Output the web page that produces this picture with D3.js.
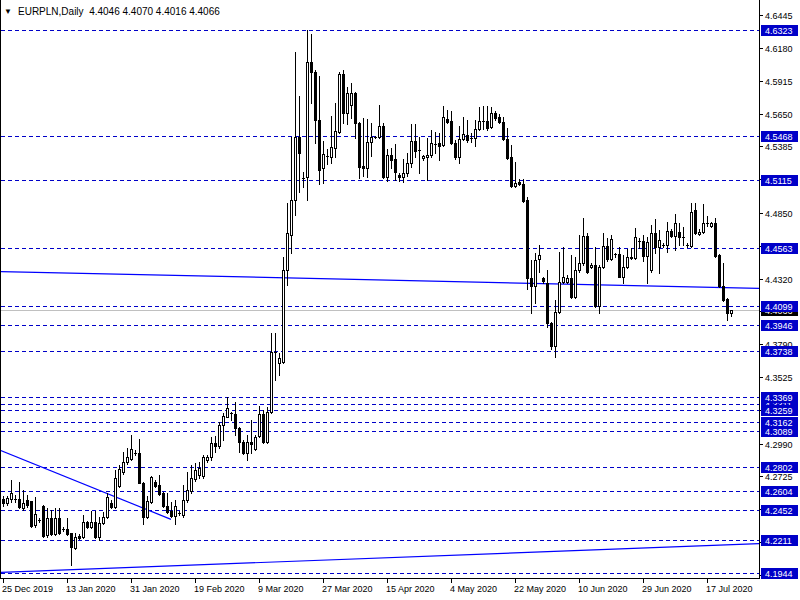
<!DOCTYPE html>
<html>
<head>
<meta charset="utf-8">
<script src="https://cdn.jsdelivr.net/npm/d3@7/dist/d3.min.js"></script>
<style>
body { margin: 0; background: #fff; }
svg { display: block; font-family: "Liberation Sans", Arial, sans-serif; }
</style>
</head>
<body>
<div class="chart"></div>
<script>
var symbol = "EURPLN,Daily";

// one row per daily bar: [open, high, low, close]
var ohlc = [
[4.2543,4.2567,4.2487,4.2511],[4.2511,4.2567,4.2495,4.2551],[4.2543,4.2696,4.2519,4.2591],[4.2543,4.2575,4.2519,4.2545],
[4.2543,4.2680,4.2471,4.2479],[4.2471,4.2616,4.2454,4.2511],[4.2535,4.2575,4.2479,4.2495],[4.2527,4.2530,4.2320,4.2325],
[4.2333,4.2559,4.2317,4.2422],[4.2374,4.2390,4.2358,4.2376],[4.2487,4.2495,4.2237,4.2245],[4.2253,4.2471,4.2237,4.2390],
[4.2390,4.2454,4.2253,4.2261],[4.2261,4.2471,4.2253,4.2390],[4.2390,4.2471,4.2261,4.2269],[4.2301,4.2317,4.2285,4.2303],
[4.2301,4.2390,4.2253,4.2261],[4.2269,4.2272,4.2011,4.2156],[4.2148,4.2269,4.2140,4.2237],[4.2245,4.2261,4.2221,4.2229],
[4.2237,4.2414,4.2229,4.2358],[4.2358,4.2366,4.2309,4.2317],[4.2317,4.2446,4.2309,4.2358],[4.2358,4.2446,4.2229,4.2237],
[4.2237,4.2398,4.2213,4.2350],[4.2350,4.2438,4.2342,4.2398],[4.2398,4.2591,4.2390,4.2559],[4.2511,4.2535,4.2471,4.2479],
[4.2479,4.2777,4.2471,4.2712],[4.2648,4.2817,4.2640,4.2785],[4.2761,4.2922,4.2745,4.2841],[4.2841,4.2954,4.2825,4.2882],
[4.2866,4.3059,4.2857,4.2946],[4.2914,4.2938,4.2898,4.2916],[4.2914,4.3027,4.2672,4.2672],[4.2672,4.2680,4.2342,4.2398],
[4.2398,4.2567,4.2390,4.2527],[4.2519,4.2728,4.2511,4.2720],[4.2680,4.2696,4.2640,4.2648],[4.2656,4.2737,4.2575,4.2583],
[4.2591,4.2599,4.2479,4.2487],[4.2487,4.2591,4.2430,4.2438],[4.2446,4.2519,4.2398,4.2406],[4.2406,4.2535,4.2342,4.2487],
[4.2430,4.2446,4.2414,4.2432],[4.2414,4.2656,4.2398,4.2535],[4.2535,4.2761,4.2519,4.2616],[4.2607,4.2817,4.2591,4.2712],
[4.2704,4.2833,4.2688,4.2777],[4.2737,4.2841,4.2712,4.2793],[4.2728,4.2898,4.2712,4.2882],[4.2857,4.2898,4.2841,4.2882],
[4.2882,4.3043,4.2857,4.2994],[4.2994,4.3051,4.2922,4.2970],[4.2970,4.3164,4.2954,4.3140],[4.3140,4.3236,4.3019,4.3212],
[4.3204,4.3365,4.3204,4.3277],[4.3236,4.3244,4.3180,4.3234],[4.3228,4.3325,4.3059,4.3115],[4.3115,4.3123,4.2922,4.3002],
[4.3002,4.3019,4.2906,4.2914],[4.2914,4.3059,4.2857,4.3002],[4.3002,4.3180,4.2914,4.2986],[4.2946,4.3059,4.2938,4.3043],
[4.3051,4.3293,4.3043,4.3228],[4.3228,4.3260,4.2994,4.3002],[4.3002,4.3285,4.2994,4.3244],[4.3244,4.3881,4.3236,4.3728],
[4.3728,4.3881,4.3502,4.3730],[4.3639,4.3720,4.3542,4.3680],[4.3647,4.4494,4.3640,4.4389],[4.4389,4.4929,4.4268,4.4687],
[4.4671,4.5461,4.4526,4.4953],[4.4953,4.6146,4.4832,4.5461],[4.5461,4.5791,4.5017,4.5332],[4.5130,4.5178,4.5057,4.5134],
[4.5138,4.6323,4.4953,4.6065],[4.6065,4.6291,4.5735,4.5985],[4.5985,4.6001,4.5412,4.5598],[4.5598,4.5952,4.5082,4.5195],
[4.5211,4.5428,4.5090,4.5324],[4.5308,4.5364,4.5243,4.5310],[4.5300,4.5630,4.5251,4.5380],[4.5372,4.5735,4.5300,4.5509],
[4.5501,4.5985,4.5493,4.5969],[4.5969,4.6001,4.5574,4.5654],[4.5654,4.5864,4.5566,4.5815],[4.5719,4.5896,4.5614,4.5815],
[4.5815,4.5820,4.5453,4.5574],[4.5574,4.5582,4.5130,4.5219],[4.5227,4.5614,4.5146,4.5211],[4.5211,4.5606,4.5138,4.5420],
[4.5420,4.5574,4.5308,4.5461],[4.5461,4.5469,4.5453,4.5463],[4.5461,4.5719,4.5453,4.5549],[4.5549,4.5574,4.5130,4.5138],
[4.5138,4.5364,4.5106,4.5316],[4.5316,4.5372,4.5211,4.5275],[4.5283,4.5404,4.5114,4.5178],[4.5154,4.5170,4.5106,4.5138],
[4.5138,4.5283,4.5098,4.5170],[4.5170,4.5332,4.5146,4.5251],[4.5251,4.5566,4.5219,4.5428],[4.5428,4.5566,4.5300,4.5348],
[4.5356,4.5461,4.5170,4.5354],[4.5292,4.5316,4.5275,4.5308],[4.5300,4.5453,4.5114,4.5316],[4.5316,4.5517,4.5300,4.5412],
[4.5404,4.5501,4.5332,4.5406],[4.5412,4.5493,4.5275,4.5388],[4.5396,4.5711,4.5388,4.5622],[4.5606,4.5678,4.5574,4.5582],
[4.5590,4.5670,4.5404,4.5412],[4.5412,4.5436,4.5283,4.5300],[4.5300,4.5549,4.5251,4.5445],[4.5445,4.5622,4.5436,4.5485],
[4.5477,4.5598,4.5420,4.5436],[4.5453,4.5493,4.5420,4.5455],[4.5453,4.5598,4.5388,4.5525],[4.5525,4.5703,4.5517,4.5590],
[4.5590,4.5711,4.5525,4.5592],[4.5590,4.5711,4.5517,4.5533],[4.5541,4.5703,4.5533,4.5654],[4.5654,4.5670,4.5598,4.5614],
[4.5622,4.5646,4.5574,4.5582],[4.5582,4.5622,4.5436,4.5445],[4.5445,4.5533,4.5283,4.5292],[4.5300,4.5396,4.5057,4.5065],
[4.5065,4.5259,4.5057,4.5090],[4.5098,4.5122,4.5074,4.5082],[4.5082,4.5122,4.4937,4.4945],[4.4953,4.4977,4.4236,4.4324],
[4.4324,4.4469,4.4042,4.4260],[4.4260,4.4526,4.4123,4.4469],[4.4477,4.4590,4.4373,4.4510],[4.4324,4.4332,4.4284,4.4300],
[4.4284,4.4389,4.3929,4.3961],[4.3961,4.3969,4.3752,4.3776],[4.3776,4.4147,4.3688,4.4050],[4.4050,4.4534,4.4042,4.4292],
[4.4292,4.4574,4.4284,4.4332],[4.4292,4.4348,4.4284,4.4324],[4.4324,4.4510,4.4163,4.4171],[4.4171,4.4494,4.4163,4.4389],
[4.4389,4.4671,4.4373,4.4445],[4.4445,4.4808,4.4429,4.4663],[4.4663,4.4687,4.4365,4.4373],[4.4413,4.4445,4.4405,4.4429],
[4.4429,4.4574,4.4091,4.4099],[4.4099,4.4429,4.4042,4.4413],[4.4413,4.4687,4.4405,4.4582],[4.4582,4.4647,4.4461,4.4477],
[4.4477,4.4671,4.4469,4.4639],[4.4518,4.4526,4.4494,4.4520],[4.4518,4.4574,4.4330,4.4332],[4.4332,4.4510,4.4284,4.4413],
[4.4413,4.4558,4.4405,4.4494],[4.4494,4.4566,4.4477,4.4485],[4.4485,4.4727,4.4477,4.4655],[4.4622,4.4647,4.4566,4.4624],
[4.4622,4.4671,4.4461,4.4502],[4.4502,4.4655,4.4284,4.4614],[4.4389,4.4751,4.4373,4.4687],[4.4687,4.4800,4.4526,4.4574],
[4.4574,4.4711,4.4365,4.4630],[4.4590,4.4606,4.4574,4.4592],[4.4590,4.4776,4.4534,4.4703],[4.4703,4.4719,4.4655,4.4663],
[4.4663,4.4840,4.4550,4.4768],[4.4695,4.4768,4.4590,4.4655],[4.4655,4.4735,4.4590,4.4657],[4.4590,4.4606,4.4574,4.4592],
[4.4582,4.4929,4.4574,4.4856],[4.4872,4.4929,4.4679,4.4687],[4.4679,4.4719,4.4671,4.4695],[4.4695,4.4921,4.4687,4.4768],
[4.4768,4.4824,4.4743,4.4770],[4.4743,4.4776,4.4735,4.4768],[4.4768,4.4808,4.4494,4.4502],[4.4510,4.4518,4.4252,4.4260],
[4.4260,4.4445,4.4139,4.4147],[4.4155,4.4163,4.3986,4.4042],[4.4046,4.4070,4.4016,4.4066]
];

var dateLabels = ["25 Dec 2019", "13 Jan 2020", "31 Jan 2020", "19 Feb 2020", "9 Mar 2020", "27 Mar 2020",
    "15 Apr 2020", "4 May 2020", "22 May 2020", "10 Jun 2020", "29 Jun 2020", "17 Jul 2020"];
var dateLabelBars = [0, 16, 32, 48, 64, 80, 96, 112, 128, 144, 160, 176];

var priceTicks = [4.6445, 4.6180, 4.5915, 4.5650, 4.5385, 4.5120, 4.4850, 4.4585, 4.4320, 4.4055,
    4.3790, 4.3525, 4.3260, 4.2990, 4.2725, 4.2460, 4.2195, 4.1930];

// horizontal levels, drawn in this order (later ones cover earlier labels)
var levels = [4.6323, 4.5468, 4.5115, 4.4563, 4.4099, 4.3946, 4.3738, 4.3311, 4.3369, 4.3259,
    4.3162, 4.3089, 4.2802, 4.2604, 4.2452, 4.2211, 4.1944];

// trend lines: [[bar, price], [bar, price]]
var trendLines = [
    [[-0.75, 4.4376], [189, 4.4241]],
    [[-0.75, 4.2936], [42, 4.2379]],
    [[-0.75, 4.1952], [189, 4.2183]]
];

var lastBar = ohlc[ohlc.length - 1];
var bidPrice = lastBar[3];

createChart();

function createChart() {
    var svgWidth = 800;
    var svgHeight = 600;
    var plotRight = 759;
    var plotBottom = 578;

    var svg = d3.select(".chart")
        .append("svg")
        .attr("width", svgWidth).attr("height", svgHeight)
        .attr("shape-rendering", "crispEdges");

    var xScale = d3.scaleLinear().domain([0, 182]).range([3, 731]);
    var yScale = d3.scaleLinear().domain([4.19062, 4.65649]).range([plotBottom, 0]);

    function py(v) { return Math.round(yScale(v)) + 0.5; }

    svg.append("defs").append("clipPath").attr("id", "plotClip")
        .append("rect").attr("x", 1).attr("y", 0).attr("width", plotRight - 1).attr("height", plotBottom);

    var plot = svg.append("g").attr("clip-path", "url(#plotClip)");

    // dashed levels
    plot.selectAll(".level")
        .data(levels)
        .enter()
        .append("line")
        .attr("x1", 1).attr("x2", plotRight)
        .attr("y1", d => py(d)).attr("y2", d => py(d))
        .attr("stroke", "#0000c8")
        .attr("stroke-dasharray", "4,3");

    // bid line
    plot.append("line")
        .attr("x1", 1).attr("x2", plotRight)
        .attr("y1", py(bidPrice)).attr("y2", py(bidPrice))
        .attr("stroke", "#c0c0c0");

    // trend lines
    plot.selectAll(".trend")
        .data(trendLines)
        .enter()
        .append("line")
        .attr("x1", d => xScale(d[0][0])).attr("y1", d => yScale(d[0][1]))
        .attr("x2", d => xScale(d[1][0])).attr("y2", d => yScale(d[1][1]))
        .attr("stroke", "#0000ff")
        .attr("stroke-width", 1.2)
        .attr("shape-rendering", "auto");

    // candles
    var candle = plot.selectAll(".candle")
        .data(ohlc)
        .enter()
        .append("g");

    candle.append("line")
        .attr("x1", (d, i) => xScale(i) + 0.5).attr("x2", (d, i) => xScale(i) + 0.5)
        .attr("y1", d => Math.round(yScale(d[1])))
        .attr("y2", d => Math.round(yScale(d[2])) + 1)
        .attr("stroke", "#000");

    candle.each(function(d, i) {
        var g = d3.select(this);
        var cx = xScale(i);
        var top = Math.round(yScale(Math.max(d[0], d[3])));
        var bottom = Math.round(yScale(Math.min(d[0], d[3])));
        if (bottom - top < 1) {
            g.append("line")
                .attr("x1", cx - 1).attr("x2", cx + 2)
                .attr("y1", top + 0.5).attr("y2", top + 0.5)
                .attr("stroke", "#000");
        } else {
            g.append("rect")
                .attr("x", cx - 0.5).attr("y", top + 0.5)
                .attr("width", 2).attr("height", bottom - top)
                .attr("fill", d[3] >= d[0] ? "#fff" : "#000")
                .attr("stroke", "#000");
        }
    });

    // frame
    svg.append("line").attr("x1", 0.5).attr("x2", 0.5).attr("y1", 0).attr("y2", plotBottom + 1).attr("stroke", "#000");
    svg.append("line").attr("x1", plotRight + 0.5).attr("x2", plotRight + 0.5).attr("y1", 0).attr("y2", plotBottom + 1).attr("stroke", "#000");
    svg.append("line").attr("x1", 0).attr("x2", plotRight + 1).attr("y1", plotBottom + 0.5).attr("y2", plotBottom + 0.5).attr("stroke", "#000");

    // date axis
    var dateAxis = svg.append("g");
    dateAxis.selectAll("line")
        .data(dateLabelBars)
        .enter()
        .append("line")
        .attr("x1", d => xScale(d) + 0.5).attr("x2", d => xScale(d) + 0.5)
        .attr("y1", plotBottom + 1).attr("y2", plotBottom + 5)
        .attr("stroke", "#000");
    dateAxis.selectAll("text")
        .data(dateLabelBars)
        .enter()
        .append("text")
        .attr("x", d => xScale(d) - 1)
        .attr("y", 592)
        .attr("font-size", "9px")
        .attr("fill", "#000")
        .text((d, i) => dateLabels[i]);

    // price axis
    var priceAxis = svg.append("g");
    priceAxis.selectAll("line")
        .data(priceTicks)
        .enter()
        .append("line")
        .attr("x1", plotRight + 1).attr("x2", plotRight + 4)
        .attr("y1", d => py(d)).attr("y2", d => py(d))
        .attr("stroke", "#000");
    priceAxis.selectAll("text")
        .data(priceTicks)
        .enter()
        .append("text")
        .attr("x", 765)
        .attr("y", d => Math.round(yScale(d)) + 4)
        .attr("font-size", "9px")
        .attr("fill", "#000")
        .text(d => d.toFixed(4));

    // current price tag
    svg.append("rect")
        .attr("x", 761).attr("y", Math.round(yScale(bidPrice)) - 5)
        .attr("width", 37).attr("height", 11)
        .attr("fill", "#000");
    svg.append("text")
        .attr("x", 765).attr("y", Math.round(yScale(bidPrice)) + 4)
        .attr("font-size", "9px").attr("fill", "#fff")
        .text(bidPrice.toFixed(4));

    // level tags
    var tags = svg.selectAll(".tag")
        .data(levels)
        .enter()
        .append("g");
    tags.append("rect")
        .attr("x", 761).attr("y", d => Math.round(yScale(d)) - 5)
        .attr("width", 37).attr("height", 11)
        .attr("fill", "#0000c8");
    tags.append("text")
        .attr("x", 765).attr("y", d => Math.round(yScale(d)) + 4)
        .attr("font-size", "9px").attr("fill", "#fff")
        .text(d => d.toFixed(4));

    // title
    svg.append("text")
        .attr("x", 4).attr("y", 14)
        .attr("font-size", "8px")
        .text("\u25BC");
    svg.append("text")
        .attr("x", 18).attr("y", 15)
        .attr("font-size", "10px")
        .attr("fill", "#000")
        .attr("xml:space", "preserve")
        .text(symbol + "  " + lastBar.map(v => v.toFixed(4)).join(" "));
}
</script>
</body>
</html>
